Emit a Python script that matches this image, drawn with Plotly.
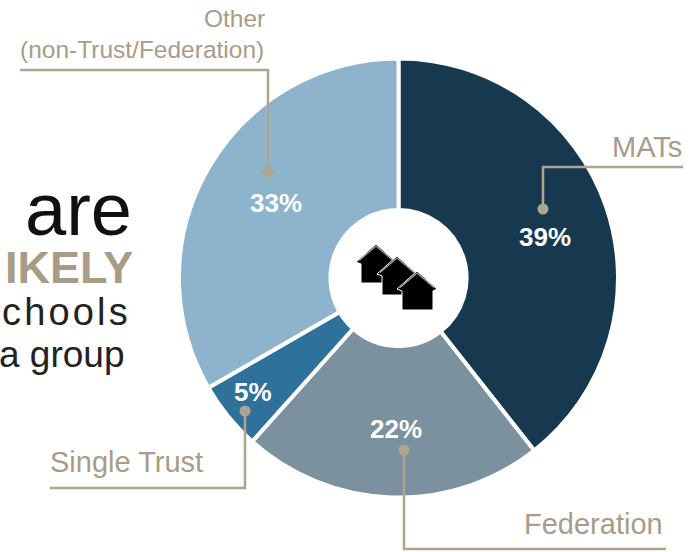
import plotly.graph_objects as go

categories = ["MATs", "Federation", "Single Trust", "Other (non-Trust/Federation)"]
values = [39, 22, 5, 33]
value_labels = ["39%", "22%", "5%", "33%"]
colors = ["#17394F", "#7B919F", "#2E729B", "#8DB4CC"]
W, H = 695, 552
TAN = "#AFA48F"
TAN_TEXT = "#A89C88"
FONT = "Liberation Sans, Arial, sans-serif"

def px(x): return x / W
def py(y): return 1 - y / H

fig = go.Figure(go.Pie(
    labels=categories, values=values, sort=False, direction="clockwise", rotation=0,
    hole=0.31, textinfo="none", showlegend=False,
    marker=dict(colors=colors, line=dict(color="white", width=4)),
    domain=dict(x=[px(179), px(618)], y=[py(497.5), py(58.5)]),
))

shapes = []
leaders = [
    [(20, 70), (268, 70), (268, 172)],
    [(683, 167), (543, 167), (543, 209)],
    [(50, 488), (245, 488), (245, 411)],
    [(666, 549), (404, 549), (404, 450)],
]
for pts in leaders:
    d = "M" + " L".join(f"{px(x)} {py(y)}" for x, y in pts)
    shapes.append(dict(type="path", xref="paper", yref="paper", path=d,
                       line=dict(color=TAN, width=2.5), layer="above"))
    x, y = pts[-1]
    shapes.append(dict(type="circle", xref="paper", yref="paper", layer="above",
                       x0=px(x - 5.5), x1=px(x + 5.5), y0=py(y + 5.5), y1=py(y - 5.5),
                       fillcolor=TAN, line=dict(width=0)))

def poly(points, **kw):
    d = "M" + " L".join(f"{px(x)} {py(y)}" for x, y in points) + kw.pop("end", " Z")
    return dict(type="path", xref="paper", yref="paper", path=d, layer="above", **kw)

for dx, dy in [(0, 0), (21, 12), (41, 27)]:
    ax, ay = 376 + dx, 245 + dy
    shapes.append(poly([(ax, ay - 1), (ax + 20, ay + 17), (ax + 16, ay + 19), (ax + 16, ay + 38),
                        (ax - 15, ay + 38), (ax - 15, ay + 19), (ax - 20, ay + 17)],
                       fillcolor="black", line=dict(color="white", width=1)))
    shapes.append(poly([(ax - 17, ay + 15.5), (ax, ay + 1), (ax + 17, ay + 15.5)], end="",
                       line=dict(color="#A8A8A8", width=1.2)))

def note(x, y, text, size, color, anchor="center", bold=False):
    if bold:
        text = f"<b>{text}</b>"
    return dict(x=px(x), y=py(y), xref="paper", yref="paper", text=text, showarrow=False,
                xanchor=anchor, yanchor="middle", align=anchor,
                font=dict(family=FONT, size=size, color=color))

annotations = [
    note(545, 237, value_labels[0], 26, "white", bold=True),
    note(396, 429, value_labels[1], 26, "white", bold=True),
    note(253, 392, value_labels[2], 26, "white", bold=True),
    note(276, 203, value_labels[3], 26, "white", bold=True),
    note(684, 147, categories[0], 29, TAN_TEXT, "right"),
    note(665, 524, categories[1], 29, TAN_TEXT, "right"),
    note(48, 462, categories[2], 29, TAN_TEXT, "left"),
    note(234, 18, "Other", 24.5, TAN_TEXT),
    note(142, 50, "(non-Trust/Federation)", 24.5, TAN_TEXT),
    note(134, 209, "are", 74, "#111111", "right"),
    note(135, 268, "IKELY", 45, TAN_TEXT, "right", bold=True),
    note(130, 312, "\u200a".join("chools"), 38, "#222222", "right"),
    note(127, 354, "a group", 37, "#222222", "right"),
]

fig.update_layout(width=W, height=H, margin=dict(l=0, r=0, t=0, b=0), paper_bgcolor="white",
                  shapes=shapes, annotations=annotations)
fig.write_html("out.html", config=dict(displayModeBar=False),
               post_script="document.body.style.margin='0';document.documentElement.style.overflow='hidden';")
